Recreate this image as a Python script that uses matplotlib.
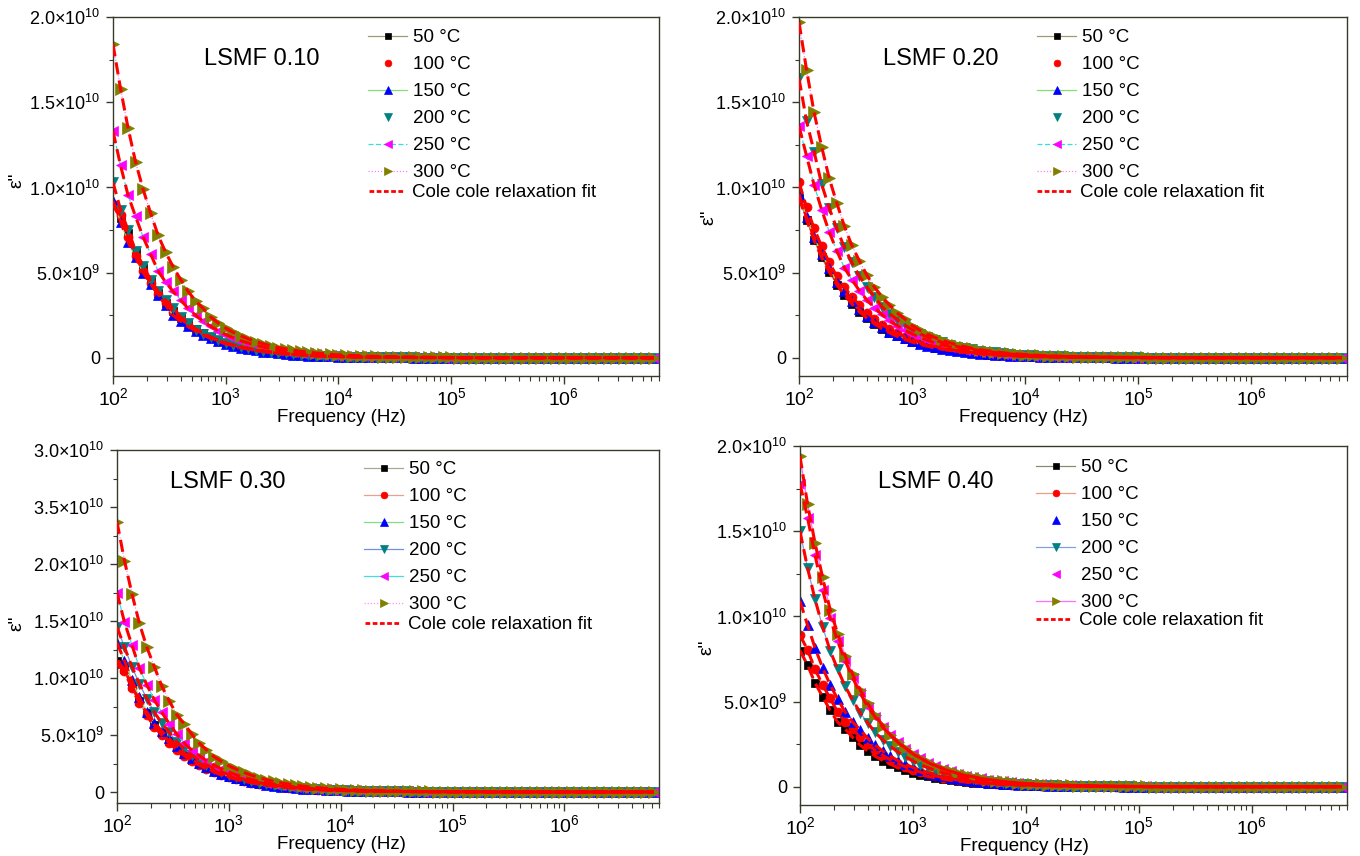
import numpy as np
import matplotlib
matplotlib.use('Agg')
import matplotlib.pyplot as plt
from matplotlib.lines import Line2D

plt.rcParams['font.family'] = ['Liberation Sans', 'DejaVu Sans']
plt.rcParams['mathtext.fontset'] = 'custom'
plt.rcParams['mathtext.rm'] = 'Liberation Sans'
plt.rcParams['mathtext.it'] = 'Liberation Sans:italic'
plt.rcParams['mathtext.bf'] = 'Liberation Sans:bold'
plt.rcParams['mathtext.default'] = 'regular'

# ---------------- data ----------------
TEMPS = ['50 °C', '100 °C', '150 °C', '200 °C', '250 °C', '300 °C']
FIT_LABEL = 'Cole cole relaxation fit'
SAMPLES = ['LSMF 0.10', 'LSMF 0.20', 'LSMF 0.30', 'LSMF 0.40']
X_LABEL = 'Frequency (Hz)'
Y_LABEL = 'ε"'
UNIT = 1e7              # values below are in units of 1e7
F_START = 100.0         # Hz, first measured frequency
POINTS_PER_DECADE = 15  # measurement grid density

# LSMF 0.10
E10_50 = [900, 820, 730, 620, 530, 450, 380, 325, 275, 235, 200, 170, 145, 123, 105, 90, 76, 65, 55, 47,
          40, 34, 29, 25, 21, 18, 15, 13, 11, 9, 8, 7, 6, 5, 4,
          4, 4, 3, 3, 3, 2, 2, 2, 2, 2, 1, 1, 1, 1, 1, 1, 1, 1, 1, 1, 1, 1, 1, 1, 1, 1, 1, 1, 1, 1, 1, 1, 1, 1, 1, 1, 1, 1]
E10_100 = [900, 840, 710, 600, 510, 440, 375, 320, 270, 230, 195, 166, 141, 120, 102, 87, 74, 63, 53, 45,
           39, 33, 28, 24, 20, 17, 15, 13, 11, 9, 8, 7, 6, 5, 4,
           4, 4, 3, 3, 3, 2, 2, 2, 2, 2, 1, 1, 1, 1, 1, 1, 1, 1, 1, 1, 1, 1, 1, 1, 1, 1, 1, 1, 1, 1, 1, 1, 1, 1, 1, 1, 1, 1]
E10_150 = [920, 800, 680, 590, 500, 435, 370, 310, 250, 215, 185, 158, 135, 115, 98, 83, 71, 60, 51, 44,
           37, 32, 27, 23, 20, 17, 14, 12, 10, 9, 8, 7, 6, 5, 4,
           4, 4, 3, 3, 3, 2, 2, 2, 2, 2, 1, 1, 1, 1, 1, 1, 1, 1, 1, 1, 1, 1, 1, 1, 1, 1, 1, 1, 1, 1, 1, 1, 1, 1, 1, 1, 1, 1]
E10_200 = [1030, 870, 750, 630, 540, 460, 390, 340, 290, 240, 205, 165, 140, 120, 103, 88, 76, 65, 56, 48,
           41, 35, 30, 26, 22, 19, 16, 14, 12, 10, 9, 8, 7, 6, 5,
           5, 4, 4, 3, 3, 3, 2, 2, 2, 2, 2, 1, 1, 1, 1, 1, 1, 1, 1, 1, 1, 1, 1, 1, 1, 1, 1, 1, 1, 1, 1, 1, 1, 1, 1, 1, 1, 1]
E10_250 = [1330, 1130, 955, 830, 710, 610, 510, 445, 390, 340, 290, 250, 215, 185, 160, 137, 118, 101, 87, 75,
           64, 55, 47, 41, 35, 30, 26, 22, 19, 16, 14, 12, 10, 9, 8,
           7, 6, 5, 5, 4, 4, 3, 3, 3, 2, 2, 2, 2, 2, 2, 1, 1, 1, 1, 1, 1, 1, 1, 1, 1, 1, 1, 1, 1, 1, 1, 1, 1, 1, 1, 1, 1, 1]
E10_300 = [1840, 1580, 1350, 1150, 990, 850, 720, 620, 535, 460, 390, 335, 290, 240, 205, 175, 150, 130, 112, 96,
           83, 71, 61, 53, 45, 39, 34, 29, 25, 21, 18, 16, 14, 12, 10,
           9, 8, 7, 6, 5, 5, 4, 4, 3, 3, 3, 2, 2, 2, 2, 2, 2, 1, 1, 1, 1, 1, 1, 1, 1, 1, 1, 1, 1, 1, 1, 1, 1, 1, 1, 1, 1, 1]

# LSMF 0.20
E20_50 = [940, 810, 690, 590, 505, 430, 370, 318, 272, 233, 200, 172, 148, 127, 109, 93, 80, 69, 59, 51,
          44, 38, 32, 28, 24, 20, 17, 15, 13, 11, 9, 8, 7, 6, 5,
          5, 4, 4, 3, 3, 3, 2, 2, 2, 2, 2, 1, 1, 1, 1, 1, 1, 1, 1, 1, 1, 1, 1, 1, 1, 1, 1, 1, 1, 1, 1, 1, 1, 1, 1, 1, 1, 1]
E20_100 = [1030, 885, 760, 655, 560, 480, 415, 360, 310, 265, 228, 196, 169, 145, 125, 107, 92, 79, 68, 58,
           50, 43, 37, 32, 27, 23, 20, 17, 15, 13, 11, 9, 8, 7, 6,
           5, 5, 4, 4, 3, 3, 3, 2, 2, 2, 2, 2, 1, 1, 1, 1, 1, 1, 1, 1, 1, 1, 1, 1, 1, 1, 1, 1, 1, 1, 1, 1, 1, 1, 1, 1, 1, 1]
E20_150 = [960, 825, 710, 610, 530, 445, 390, 335, 285, 245, 210, 180, 155, 133, 114, 98, 84, 72, 62, 53,
           46, 39, 34, 29, 25, 21, 18, 16, 14, 12, 10, 9, 8, 7, 6,
           5, 5, 4, 4, 3, 3, 3, 2, 2, 2, 2, 2, 1, 1, 1, 1, 1, 1, 1, 1, 1, 1, 1, 1, 1, 1, 1, 1, 1, 1, 1, 1, 1, 1, 1, 1, 1, 1]
E20_200 = [1640, 1390, 1210, 1020, 880, 760, 650, 560, 480, 415, 360, 300, 260, 225, 193, 166, 143, 123, 106, 91,
           78, 67, 58, 50, 43, 37, 32, 27, 23, 20, 17, 15, 13, 11, 10,
           9, 8, 7, 6, 5, 5, 4, 4, 3, 3, 3, 2, 2, 2, 2, 2, 2, 1, 1, 1, 1, 1, 1, 1, 1, 1, 1, 1, 1, 1, 1, 1, 1, 1, 1, 1, 1, 1]
E20_250 = [1360, 1185, 1015, 870, 740, 630, 530, 460, 395, 340, 295, 255, 220, 190, 163, 140, 120, 103, 89, 76,
           66, 56, 48, 42, 36, 31, 26, 23, 20, 17, 15, 13, 11, 9, 8,
           7, 6, 5, 5, 4, 4, 3, 3, 3, 2, 2, 2, 2, 2, 2, 1, 1, 1, 1, 1, 1, 1, 1, 1, 1, 1, 1, 1, 1, 1, 1, 1, 1, 1, 1, 1, 1, 1]
E20_300 = [1970, 1690, 1440, 1240, 1055, 910, 775, 660, 570, 485, 415, 360, 310, 265, 230, 190, 163, 140, 120, 103,
           89, 76, 66, 56, 48, 42, 36, 31, 26, 23, 20, 17, 15, 13, 11,
           10, 9, 8, 7, 6, 5, 5, 4, 4, 3, 3, 3, 2, 2, 2, 2, 2, 2, 1, 1, 1, 1, 1, 1, 1, 1, 1, 1, 1, 1, 1, 1, 1, 1, 1, 1, 1, 1]

# LSMF 0.30
E30_50 = [1150, 1080, 930, 800, 690, 590, 515, 445, 385, 330, 285, 245, 210, 181, 156, 134, 115, 99, 85, 73,
          63, 54, 46, 40, 34, 29, 25, 22, 19, 16, 14, 12, 10, 9, 8,
          7, 6, 5, 5, 4, 4, 3, 3, 3, 2, 2, 2, 2, 2, 2, 1, 1, 1, 1, 1, 1, 1, 1, 1, 1, 1, 1, 1, 1, 1, 1, 1, 1, 1, 1, 1, 1, 1]
E30_100 = [1120, 1060, 910, 780, 675, 570, 500, 430, 370, 320, 275, 236, 203, 175, 150, 129, 111, 95, 82, 70,
           60, 52, 45, 38, 33, 28, 24, 21, 18, 16, 14, 12, 10, 9, 8,
           7, 6, 5, 5, 4, 4, 3, 3, 3, 2, 2, 2, 2, 2, 2, 1, 1, 1, 1, 1, 1, 1, 1, 1, 1, 1, 1, 1, 1, 1, 1, 1, 1, 1, 1, 1, 1, 1]
E30_150 = [1310, 1150, 980, 830, 700, 610, 535, 470, 400, 345, 295, 255, 220, 188, 162, 139, 120, 103, 88, 76,
           65, 56, 48, 41, 36, 31, 26, 23, 20, 17, 15, 13, 11, 9, 8,
           7, 6, 5, 5, 4, 4, 3, 3, 3, 2, 2, 2, 2, 2, 2, 1, 1, 1, 1, 1, 1, 1, 1, 1, 1, 1, 1, 1, 1, 1, 1, 1, 1, 1, 1, 1, 1, 1]
E30_200 = [1450, 1270, 1100, 950, 820, 700, 605, 525, 440, 380, 325, 280, 240, 206, 177, 152, 131, 112, 97, 83,
           71, 61, 53, 45, 39, 33, 29, 25, 21, 18, 16, 14, 12, 10, 9,
           8, 7, 6, 5, 5, 4, 4, 3, 3, 3, 2, 2, 2, 2, 2, 2, 1, 1, 1, 1, 1, 1, 1, 1, 1, 1, 1, 1, 1, 1, 1, 1, 1, 1, 1, 1, 1, 1]
E30_250 = [1750, 1490, 1290, 1090, 940, 810, 700, 600, 510, 430, 370, 320, 275, 236, 203, 175, 150, 129, 111, 95,
           82, 70, 60, 52, 45, 38, 33, 28, 24, 21, 18, 16, 14, 12, 10,
           9, 8, 7, 6, 5, 5, 4, 4, 3, 3, 3, 2, 2, 2, 2, 2, 2, 1, 1, 1, 1, 1, 1, 1, 1, 1, 1, 1, 1, 1, 1, 1, 1, 1, 1, 1, 1, 1]
E30_300 = [2370, 2030, 1740, 1480, 1270, 1100, 930, 800, 680, 600, 510, 430, 370, 310, 270, 230, 200, 172, 148, 127,
           109, 94, 81, 70, 60, 51, 44, 38, 33, 28, 24, 21, 18, 15, 13,
           11, 10, 9, 8, 7, 6, 5, 5, 4, 4, 3, 3, 3, 2, 2, 2, 2, 2, 2, 1, 1, 1, 1, 1, 1, 1, 1, 1, 1, 1, 1, 1, 1, 1, 1, 1, 1, 1]

# LSMF 0.40
E40_50 = [800, 715, 610, 530, 450, 380, 340, 290, 245, 210, 180, 155, 133, 114, 98, 84, 72, 62, 53, 46,
          39, 34, 29, 25, 21, 18, 16, 14, 12, 10, 9, 8, 7, 6, 5,
          5, 4, 4, 3, 3, 3, 2, 2, 2, 2, 2, 1, 1, 1, 1, 1, 1, 1, 1, 1, 1, 1, 1, 1, 1, 1, 1, 1, 1, 1, 1, 1, 1, 1, 1, 1, 1, 1]
E40_100 = [890, 805, 690, 600, 520, 440, 380, 340, 290, 250, 215, 185, 159, 137, 118, 101, 87, 75, 64, 55,
           48, 41, 35, 30, 26, 22, 19, 17, 14, 12, 11, 9, 8, 7, 6,
           5, 5, 4, 4, 3, 3, 3, 2, 2, 2, 2, 2, 1, 1, 1, 1, 1, 1, 1, 1, 1, 1, 1, 1, 1, 1, 1, 1, 1, 1, 1, 1, 1, 1, 1, 1, 1, 1]
E40_150 = [1090, 950, 815, 700, 600, 515, 440, 380, 335, 285, 245, 210, 180, 155, 133, 114, 98, 84, 72, 62,
           53, 46, 39, 34, 29, 25, 21, 18, 16, 14, 12, 10, 9, 8, 7,
           6, 5, 5, 4, 4, 3, 3, 3, 2, 2, 2, 2, 2, 2, 1, 1, 1, 1, 1, 1, 1, 1, 1, 1, 1, 1, 1, 1, 1, 1, 1, 1, 1, 1, 1, 1, 1, 1]
E40_200 = [1500, 1285, 1100, 940, 800, 690, 590, 510, 435, 375, 320, 275, 238, 205, 177, 152, 131, 113, 97, 84,
           72, 62, 53, 46, 40, 34, 29, 25, 22, 19, 16, 14, 12, 10, 9,
           8, 7, 6, 5, 5, 4, 4, 3, 3, 3, 2, 2, 2, 2, 2, 2, 1, 1, 1, 1, 1, 1, 1, 1, 1, 1, 1, 1, 1, 1, 1, 1, 1, 1, 1, 1, 1, 1]
E40_250 = [1780, 1580, 1360, 1155, 990, 855, 740, 640, 550, 470, 410, 350, 305, 262, 225, 194, 167, 143, 123, 106,
           91, 78, 67, 58, 50, 43, 37, 32, 27, 23, 20, 17, 15, 13, 11,
           10, 9, 8, 7, 6, 5, 5, 4, 4, 3, 3, 3, 2, 2, 2, 2, 2, 2, 1, 1, 1, 1, 1, 1, 1, 1, 1, 1, 1, 1, 1, 1, 1, 1, 1, 1, 1, 1]
E40_300 = [1940, 1660, 1430, 1230, 1040, 900, 770, 660, 570, 490, 420, 360, 305, 265, 228, 196, 169, 145, 125, 107,
           92, 79, 68, 59, 50, 43, 37, 32, 28, 24, 20, 18, 15, 13, 11,
           10, 9, 8, 7, 6, 5, 5, 4, 4, 3, 3, 3, 2, 2, 2, 2, 2, 2, 1, 1, 1, 1, 1, 1, 1, 1, 1, 1, 1, 1, 1, 1, 1, 1, 1, 1, 1, 1]

PANEL_SERIES = [
    [E10_50, E10_100, E10_150, E10_200, E10_250, E10_300],
    [E20_50, E20_100, E20_150, E20_200, E20_250, E20_300],
    [E30_50, E30_100, E30_150, E30_200, E30_250, E30_300],
    [E40_50, E40_100, E40_150, E40_200, E40_250, E40_300],
]

YT_20 = [0, 5e9, 1.0e10, 1.5e10, 2.0e10]
YL_20 = ['0', '5.0×10$^{9}$', '1.0×10$^{10}$', '1.5×10$^{10}$', '2.0×10$^{10}$']
YT_30 = [0, 5e9, 1.0e10, 1.5e10, 2.0e10, 2.5e10, 3.0e10]
YL_30 = ['0', '5.0×10$^{9}$', '1.0×10$^{10}$', '1.5×10$^{10}$', '2.0×10$^{10}$', '3.5×10$^{10}$', '3.0×10$^{10}$']

# ---------------- style ----------------
MARKERS = ['s', 'o', '^', 'v', '<', '>']
MCOLORS = ['#000000', '#ff0000', '#0000ff', '#008080', '#ff00ff', '#808000']
MSIZES = [5.5, 6.5, 7.5, 7.5, 7.5, 8.0]
DOT = (0, (1, 1.5))
DASH = (0, (4, 2))
LINES_TOP = [('#a09a70', '-'), ('#ffffff', 'none'), ('#80e070', '-'), ('#ffffff', 'none'),
             ('#30e0e0', DASH), ('#ff80ff', DOT)]
LINES_BL = [('#a8a890', '-'), ('#e8a090', '-'), ('#80e080', '-'), ('#7090e0', '-'),
            ('#40e0e0', '-'), ('#ff90ff', DOT)]
LINES_BR = [('#8a8a70', '-'), ('#e8a080', '-'), ('#ffffff', 'none'), ('#80a0e0', '-'),
            ('#ffffff', 'none'), ('#ff70ff', '-')]
SPINE = '#3a3a2a'

W, H = 1360, 856
PANELS = [
    dict(rect=(113, 659, 17, 376), ylim=(-1.06e9, 2.0e10), yt=YT_20, yl=YL_20, lines=LINES_TOP,
         title=(204, 65), leg1=(368, 29), leg2=(369, 184), ylab=(25, 180), xlab_x=0.418),
    dict(rect=(799, 1347, 17, 376), ylim=(-1.06e9, 2.0e10), yt=YT_20, yl=YL_20, lines=LINES_TOP,
         title=(883, 65), leg1=(1037, 29), leg2=(1037, 184), ylab=(717, 217), xlab_x=0.41),
    dict(rect=(117, 659, 450, 803), ylim=(-0.96e9, 3.0e10), yt=YT_30, yl=YL_30, lines=LINES_BL,
         title=(170, 488), leg1=(364, 461), leg2=(365, 616), ylab=(25, 623), xlab_x=0.415),
    dict(rect=(800, 1347, 446, 805), ylim=(-1.06e9, 2.0e10), yt=YT_20, yl=YL_20, lines=LINES_BR,
         title=(878, 488), leg1=(1036, 459), leg2=(1036, 612), ylab=(715, 647), xlab_x=0.41),
]

fig = plt.figure(figsize=(W / 100, H / 100), dpi=100)
fig.patch.set_facecolor('white')

for p, series, sample in zip(PANELS, PANEL_SERIES, SAMPLES):
    l, r, t, b = p['rect']
    ax = fig.add_axes([l / W, 1 - b / H, (r - l) / W, (b - t) / H])
    handles = []
    for j, vals in enumerate(series):
        y = np.asarray(vals, dtype=float) * UNIT
        f = F_START * 10 ** (np.arange(len(y)) / POINTS_PER_DECADE)
        lc, ls = p['lines'][j]
        h, = ax.plot(f, y, color=lc, linestyle=ls, lw=0.9, marker=MARKERS[j],
                     mfc=MCOLORS[j], mec=MCOLORS[j], mew=0.5, ms=MSIZES[j], zorder=2 + 0.1 * j)
        handles.append(h)
        ax.plot(f, y, color='#ff0000', linestyle=DASH, lw=2.2, zorder=4)

    ax.set_xscale('log')
    ax.set_xlim(100, 7e6)
    ax.set_ylim(*p['ylim'])
    ax.xaxis.set_major_locator(matplotlib.ticker.LogLocator(base=10, numticks=12))
    ax.xaxis.set_minor_locator(matplotlib.ticker.LogLocator(base=10, subs=np.arange(2, 10), numticks=100))
    ax.xaxis.set_minor_formatter(matplotlib.ticker.NullFormatter())
    ax.set_yticks(p['yt'], p['yl'])
    yt = np.asarray(p['yt'])
    ax.set_yticks((yt[:-1] + yt[1:]) / 2, minor=True)

    ax.tick_params(axis='x', which='major', direction='out', length=6, width=1, labelsize=14,
                   pad=2, colors=SPINE, labelcolor='black')
    ax.tick_params(axis='x', which='minor', direction='out', length=3.5, width=0.8, colors=SPINE)
    ax.tick_params(axis='y', which='major', direction='out', length=5, width=1, labelsize=13,
                   pad=4, colors=SPINE, labelcolor='black')
    ax.tick_params(axis='y', which='minor', direction='out', length=3, width=0.8, colors=SPINE)
    for s in ax.spines.values():
        s.set_color(SPINE)
        s.set_linewidth(1.0)

    ax.set_xlabel(X_LABEL, fontsize=13.5, labelpad=0, x=p['xlab_x'])
    ax.set_ylabel(Y_LABEL, fontsize=14)
    lx, ly = p['ylab']
    ax.yaxis.set_label_coords((lx - l) / (r - l), (b - ly) / (b - t))

    tx, ty = p['title']
    fig.text(tx / W, 1 - ty / H, sample, fontsize=17, ha='left', va='baseline')

    x1, y1 = p['leg1']
    leg1 = ax.legend(handles, TEMPS, loc='upper left', bbox_to_anchor=(x1 / W, 1 - y1 / H),
                     bbox_transform=fig.transFigure, frameon=False, fontsize=13.5,
                     handlelength=2.1, handletextpad=0.3, labelspacing=0.53,
                     borderpad=0, borderaxespad=0, markerscale=0.75)
    ax.add_artist(leg1)
    fit_handle = Line2D([], [], color='#ff0000', linestyle=(0, (1.7, 0.9)), lw=2.0)
    x2, y2 = p['leg2']
    ax.legend([fit_handle], [FIT_LABEL], loc='upper left', bbox_to_anchor=(x2 / W, 1 - y2 / H),
              bbox_transform=fig.transFigure, frameon=False, fontsize=13.5,
              handlelength=1.8, handletextpad=0.5, borderpad=0, borderaxespad=0)

fig.savefig('out.png', dpi=100, facecolor='white')
